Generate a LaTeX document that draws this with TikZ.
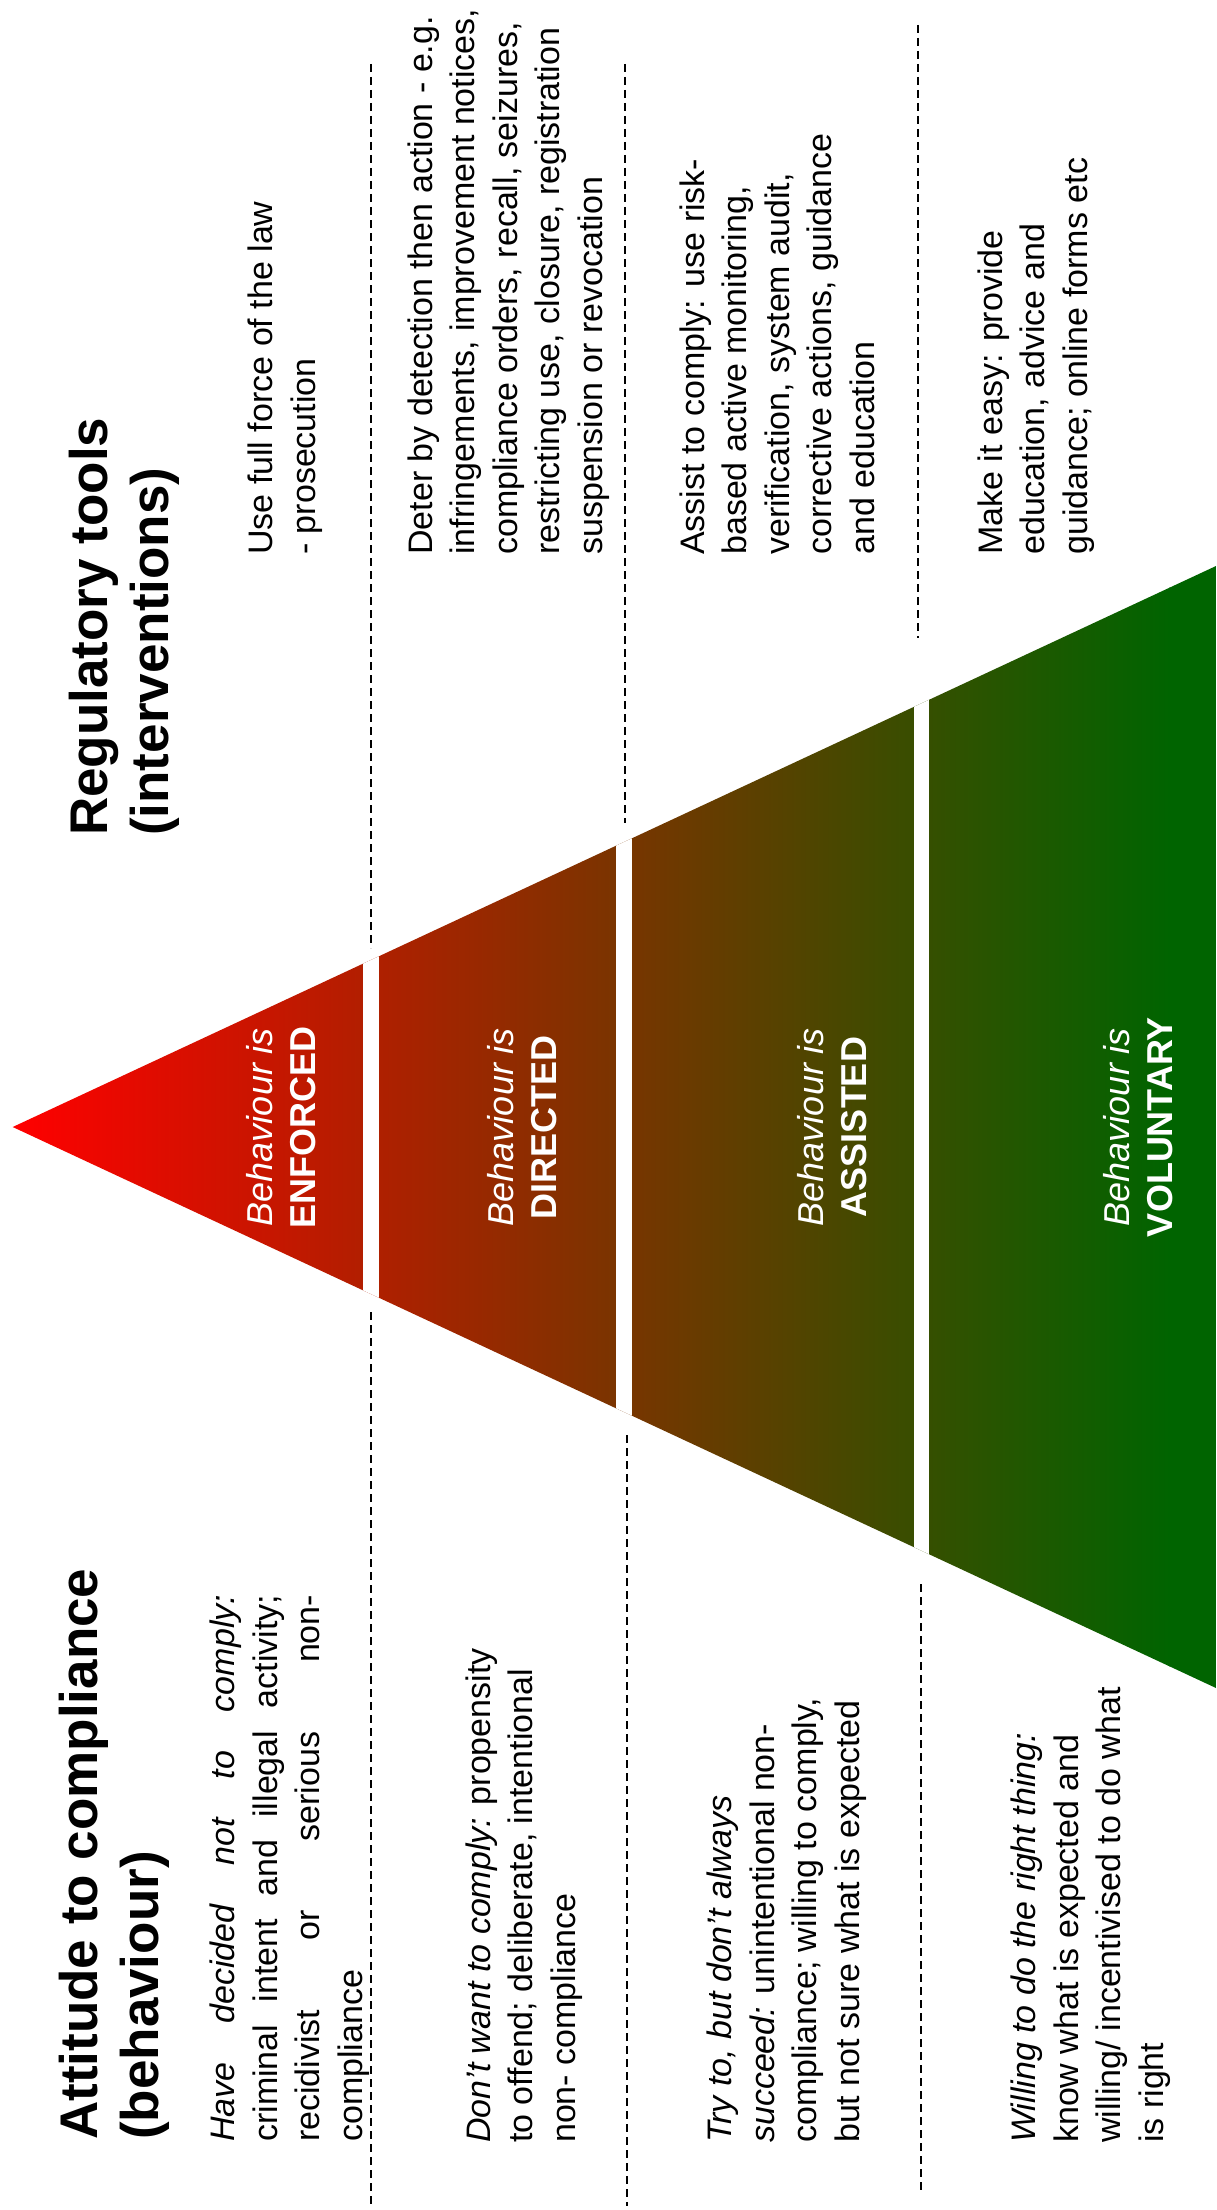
\documentclass[tikz,border=0pt]{standalone}
\usepackage{fontspec}
\setmainfont{Liberation Sans}
\usepackage{tikz}
\usetikzlibrary{positioning, calc}
\definecolor{topred}{RGB}{255,0,0}
\definecolor{basegreen}{RGB}{0,100,0}
\tikzstyle{heading} = [rotate=90, anchor=base west, align=left, inner sep=0pt, font=\bfseries\fontsize{53}{61}\selectfont]
\tikzstyle{note} = [rotate=90, anchor=base west, align=left, inner sep=0pt, font=\fontsize{34}{42.5}\selectfont]
\tikzstyle{level} = [rotate=90, align=center, inner sep=0pt, text=white, font=\fontsize{36}{43}\selectfont]
\tikzstyle{divider} = [dash pattern=on 8pt off 5pt, line width=1.8pt]
\tikzstyle{gap} = [fill=white]
\newcommand{\jline}[1]{\makebox[547pt][s]{#1}}

\begin{document}
\begin{tikzpicture}[x=1pt, y=-1pt]
  \useasboundingbox (0,0) rectangle (1216,2210);

  %pyramid with colour ramp
  \coordinate (apex) at (12.7,1127);
  \coordinate (topend) at (1216,566);
  \coordinate (botend) at (1216,1688);
  \begin{scope}
    \clip (apex) -- (topend) -- (botend) -- cycle;
    \shade[left color=topred, right color=basegreen] (12.7,500) rectangle (1170,1750);
    \fill[basegreen] (1169,500) rectangle (1216,1750);
    \fill[gap] (363,500) rectangle (379,1750);
    \fill[gap] (616,500) rectangle (632,1750);
    \fill[gap] (914,500) rectangle (929,1750);
  \end{scope}

  %dashed separators
  \draw[divider] (371,64) -- (371,948);
  \draw[divider] (371,1312) -- (371,2206);
  \draw[divider] (625,64) -- (625,823);
  \draw[divider] (627,1435) -- (627,2206);
  \draw[divider] (918,25) -- (918,638);
  \draw[divider] (921,1584) -- (921,2192);

  %headings (anchored on the last line)
  \node (attitude) [heading] at (158,2140) {Attitude to compliance\\(behaviour)};
  \node (regtools) [heading] at (168,836) {Regulatory tools\\(interventions)};

  %levels inside the pyramid
  \node (enforced) [level] at (281,1127) {\textit{Behaviour is}\\\textbf{ENFORCED}};
  \node (directed) [level] at (522,1127) {\textit{Behaviour is}\\\textbf{DIRECTED}};
  \node (assisted) [level] at (832,1127) {\textit{Behaviour is}\\\textbf{ASSISTED}};
  \node (voluntary) [level] at (1138,1127) {\textit{Behaviour is}\\\textbf{VOLUNTARY}};

  %regulatory tools
  \node (force) [note] at (315,555) {Use full force of the law\\- prosecution};
  \node (deter) [note] at (602,555) {Deter by detection then action - e.g.\\infringements, improvement notices,\\compliance orders, recall, seizures,\\restricting use, closure, registration\\suspension or revocation};
  \node (assist) [note] at (874,555) {Assist to comply: use risk-\\based active monitoring,\\verification, system audit,\\corrective actions, guidance\\and education};
  \node (easy) [note] at (1087,555) {Make it easy: provide\\education, advice and\\guidance; online forms etc};

  %attitudes
  \node (decided) [note] at (362,2142) {\jline{\textit{Have decided not to comply:}}\\\jline{criminal intent and illegal activity;}\\\jline{recidivist or serious non-}\\compliance};
  \node (want) [note] at (575,2143) {\textit{Don’t want to comply:} propensity\\to offend; deliberate, intentional\\non- compliance};
  \node (try) [note] at (859,2143) {\textit{Try to, but don’t always}\\\textit{succeed:} unintentional non-\\compliance; willing to comply,\\but not sure what is expected};
  \node (willing) [note] at (1163,2143) {\textit{Willing to do the right thing:}\\know what is expected and\\willing/ incentivised to do what\\is right};
\end{tikzpicture}
\end{document}
